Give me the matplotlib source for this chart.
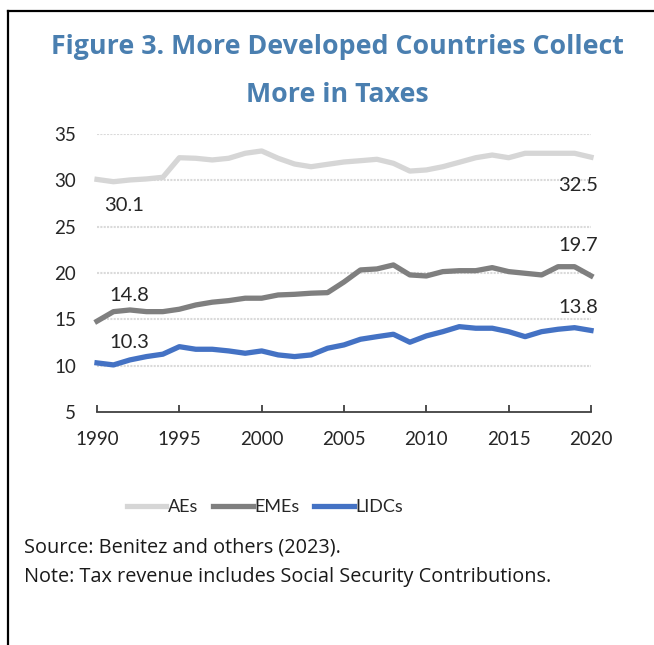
import matplotlib
matplotlib.use('Agg')
import matplotlib.pyplot as plt
from matplotlib.lines import Line2D

years = list(range(1990, 2021))

aes = [30.1, 29.85, 30.04, 30.15, 30.33, 32.44, 32.38, 32.2, 32.38, 32.92,
       33.17, 32.38, 31.76, 31.47, 31.73, 31.98, 32.12, 32.27, 31.84, 31.0,
       31.12, 31.47, 31.95, 32.44, 32.73, 32.44, 32.92, 32.92, 32.92, 32.92,
       32.5]
emes = [14.8, 15.83, 16.01, 15.83, 15.83, 16.09, 16.55, 16.85, 17.02, 17.28,
        17.28, 17.63, 17.7, 17.82, 17.88, 19.03, 20.33, 20.44, 20.87, 19.79,
        19.68, 20.15, 20.25, 20.25, 20.58, 20.15, 19.97, 19.79, 20.68, 20.68,
        19.7]
lidcs = [10.3, 10.08, 10.62, 10.98, 11.24, 12.05, 11.77, 11.77, 11.59, 11.34,
         11.59, 11.16, 10.98, 11.16, 11.88, 12.24, 12.85, 13.13, 13.39, 12.53,
         13.21, 13.67, 14.21, 14.04, 14.04, 13.67, 13.13, 13.67, 13.93, 14.1,
         13.8]

series_names = ['AEs', 'EMEs', 'LIDCs']
series_colors = ['#d6d6d6', '#7f7f7f', '#4472c4']

yticks = [5, 10, 15, 20, 25, 30, 35]
xticks = [1990, 1995, 2000, 2005, 2010, 2015, 2020]

plt.rcParams['font.family'] = ['Lato', 'DejaVu Sans']

fig = plt.figure(figsize=(6.54, 6.45), dpi=100)
ax = fig.add_axes([97 / 654, 233 / 645, 494 / 654, 278 / 645])

# grid lines (light, finely dotted)
for v in yticks[1:]:
    ax.axhline(v, color='#dadada', lw=1.5, ls=(0, (1, 0.6)), zorder=1)

for vals, name, col in zip([aes, emes, lidcs], series_names, series_colors):
    ax.plot(years, vals, color=col, lw=3.8, label=name, zorder=3,
            solid_joinstyle='round', clip_on=False)

ax.set_xlim(1990, 2020)
ax.set_ylim(5, 35)
ax.set_xticks(xticks)
ax.set_yticks(yticks)
for s in ['top', 'right', 'left']:
    ax.spines[s].set_visible(False)
ax.spines['bottom'].set_color('#404040')
ax.spines['bottom'].set_linewidth(1.3)
ax.tick_params(axis='x', direction='in', length=5, width=1.3, color='#404040',
               pad=14, labelsize=13.5, labelcolor='#262626')
ax.tick_params(axis='y', length=0, pad=15, labelsize=13.5, labelcolor='#262626')

# data labels at start and end points
labels = [
    (aes, 0, (27, -26)), (aes, -1, (-13, -28)),
    (emes, 0, (32, 26)), (emes, -1, (-13, 30)),
    (lidcs, 0, (32, 20)), (lidcs, -1, (-13, 23)),
]
for vals, i, off in labels:
    ax.annotate(f'{vals[i]:.1f}', xy=(years[i], vals[i]), xytext=off,
                textcoords='offset pixels', ha='center', va='center',
                fontsize=14.5, color='#262626')

# title
title_font = ['Open Sans', 'DejaVu Sans']
fig.text(337 / 654, 1 - 47 / 645, 'Figure 3. More Developed Countries Collect',
         ha='center', va='center', fontsize=19.3, fontweight='bold', color='#4a7fb0',
         family=title_font)
fig.text(337 / 654, 1 - 95 / 645, 'More in Taxes',
         ha='center', va='center', fontsize=19.3, fontweight='bold', color='#4a7fb0',
         family=title_font)

# legend
handles = [Line2D([0], [0], color=c, lw=3.8) for c in series_colors]
fig.legend(handles, series_names, loc='center', bbox_to_anchor=(265 / 654, 1 - 507 / 645),
           ncol=3, frameon=False, fontsize=13, handlelength=2.2, handletextpad=0.1,
           columnspacing=0.8, labelcolor='#262626')

note_font = ['Open Sans', 'DejaVu Sans']
fig.text(24 / 654, 1 - 548 / 645, 'Source: Benitez and others (2023).',
         ha='left', va='center', fontsize=14.3, color='#1a1a1a', family=note_font)
fig.text(24 / 654, 1 - 577 / 645, 'Note: Tax revenue includes Social Security Contributions.',
         ha='left', va='center', fontsize=14.3, color='#1a1a1a', family=note_font)

# frame around the figure
fig.add_artist(Line2D([8 / 654, 1], [1 - 11 / 645, 1 - 11 / 645], color='black', lw=1.6,
                      transform=fig.transFigure))
fig.add_artist(Line2D([8 / 654, 8 / 654], [0, 1 - 11 / 645], color='black', lw=1.6,
                      transform=fig.transFigure))

fig.savefig('out.png', dpi=100)
